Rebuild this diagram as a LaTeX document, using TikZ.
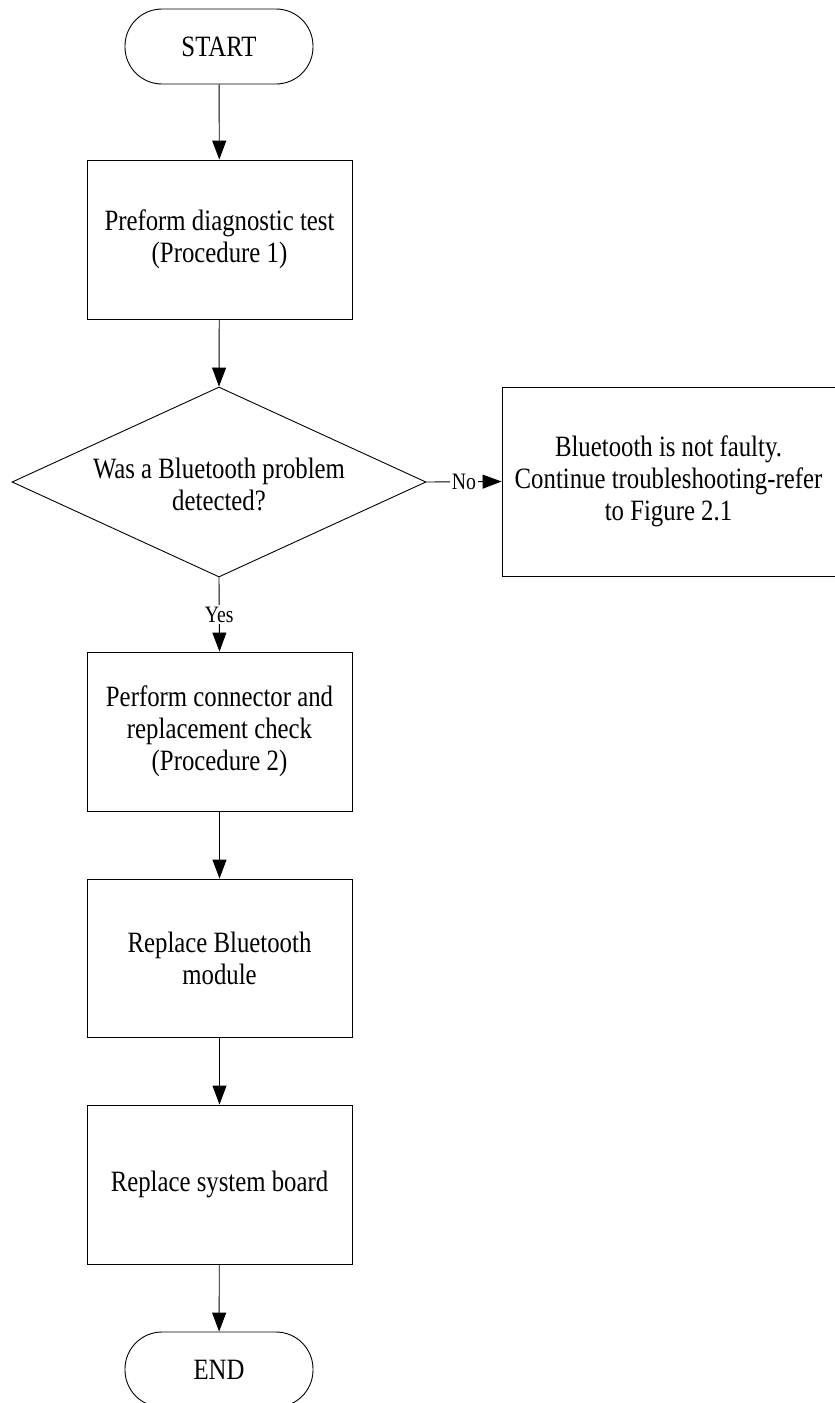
\documentclass[tikz,border=0pt]{standalone}
\usepackage{fontspec}
\setmainfont{Liberation Serif}[FakeStretch=0.84]
\usetikzlibrary{shapes.geometric,arrows.meta}
\begin{document}
\begin{tikzpicture}[x=1pt,y=-1pt,
  every node/.style={font=\fontsize{29.5}{32}\selectfont},
  term/.style={draw, line width=0.9pt, rectangle, rounded corners=37pt, minimum width=188pt, minimum height=75pt, inner sep=0pt},
  procbox/.style={draw, line width=0.9pt, rectangle, minimum width=265pt, minimum height=159pt, inner sep=0pt, align=center},
  decision/.style={draw, line width=0.9pt, diamond, minimum width=414pt, minimum height=190pt, inner sep=0pt},
  txt/.style={align=center, inner sep=0pt},
  conn/.style={line width=0.9pt, -{Triangle[length=19pt,width=14pt]}},
  lbl/.style={fill=white, inner sep=1.5pt, font=\fontsize{23.5}{26}\selectfont}]
\useasboundingbox (0,0) rectangle (835,1403);
\node[term] (start) at (219,46.5) {START};
\node[procbox] (b1) at (219.5,239.5) {Preform diagnostic test\\(Procedure 1)};
\node[decision] (dia) at (219,482) {};
\node[txt] (diatext) at (219,484) {Was a Bluetooth problem\\detected?};
\node[procbox, minimum width=333pt, minimum height=189pt] (rb) at (668.5,481.5) {Bluetooth is not faulty.\\Continue troubleshooting-refer\\to Figure 2.1};
\node[procbox] (b2) at (219.5,731.5) {Perform connector and\\replacement check\\(Procedure 2)};
\node[procbox, minimum height=158pt] (b3) at (219.5,958) {Replace Bluetooth\\module};
\node[procbox] (b4) at (219.5,1184.5) {Replace system board};
\node[term] (end) at (219,1369.5) {END};
\draw[conn] (start) -- (b1);
\draw[conn] (b1) -- (dia.north);
\draw[conn] (dia.east) -- node[lbl] {No} (rb.west);
\draw[conn] (dia.south) -- node[lbl] {Yes} (b2.north);
\draw[conn] (b2) -- (b3);
\draw[conn] (b3) -- (b4);
\draw[conn] (b4) -- (end);
\end{tikzpicture}
\end{document}
